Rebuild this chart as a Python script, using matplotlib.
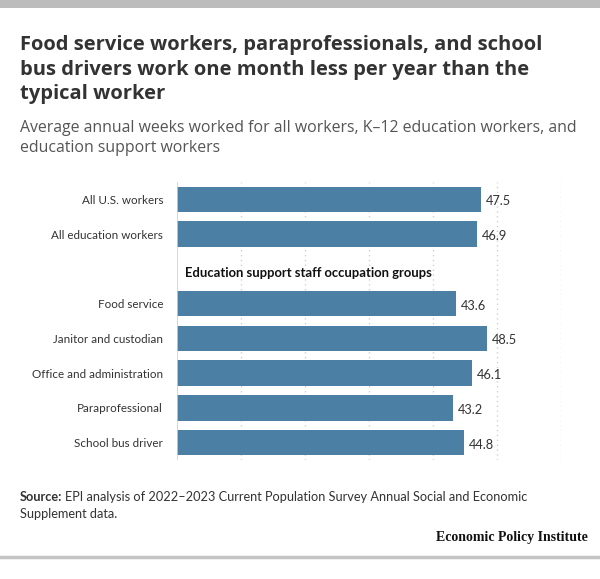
import matplotlib
matplotlib.use("Agg")
import matplotlib.pyplot as plt
from matplotlib.patches import Rectangle
from matplotlib.lines import Line2D

# -- data ---------------------------------------------------------------------
categories = [
    "All U.S. workers",
    "All education workers",
    "Food service",
    "Janitor and custodian",
    "Office and administration",
    "Paraprofessional",
    "School bus driver",
]
weeks = [47.5, 46.9, 43.6, 48.5, 46.1, 43.2, 44.8]
# row slots; slot 2 is left for the group heading
slots = [0, 1, 3, 4, 5, 6, 7]
heading = "Education support staff occupation groups"
heading_slot = 2
xticks = [0, 10, 20, 30, 40, 50, 60]

title_lines = [
    "Food service workers, paraprofessionals, and school",
    "bus drivers work one month less per year than the",
    "typical worker",
]
subtitle_lines = [
    "Average annual weeks worked for all workers, K\u201312 education workers, and",
    "education support workers",
]
source_lines = [
    "EPI analysis of 2022\u20132023 Current Population Survey Annual Social and Economic",
    "Supplement data.",
]

BAR = "#4b7fa3"
TXT = "#333333"
W, H = 600, 579

plt.rcParams["font.family"] = ["Lato", "DejaVu Sans"]

fig = plt.figure(figsize=(6, 5.79), dpi=100)
renderer = fig.canvas.get_renderer()


def px_y(y):
    return 1 - y / H


def fit_width(t, target_px):
    # scale the font so the text spans roughly target_px
    w = t.get_window_extent(renderer).width
    t.set_fontsize(t.get_fontsize() * target_px / w)


def lines(texts, baselines, x=20, **kw):
    out = []
    for s, yb in zip(texts, baselines):
        out.append(fig.text(x / W, px_y(yb), s, va="baseline", ha="left", **kw))
    return out


# top band and bottom rule
fig.add_artist(Rectangle((0, px_y(8)), 1, 8 / H, transform=fig.transFigure,
                         color="#bcbcbc", lw=0))
fig.add_artist(Line2D([0, 1], [px_y(557)] * 2, transform=fig.transFigure,
                      color="#c4c4c4", lw=2.5))

tl = lines(title_lines, [50, 74.5, 99], fontsize=14, fontweight="bold",
           color=TXT, family=["Open Sans", "DejaVu Sans"])
fit_width(tl[0], 525)
for t in tl[1:]:
    t.set_fontsize(tl[0].get_fontsize())

sl = lines(subtitle_lines, [132, 152.5], fontsize=11, color="#555555",
           family=["Open Sans", "DejaVu Sans"])
fit_width(sl[0], 558)
sl[1].set_fontsize(sl[0].get_fontsize())

# -- axes ---------------------------------------------------------------------
ax = fig.add_axes([177 / W, px_y(460), 384 / W, 278 / H])
ax.barh(slots, weeks, height=0.73, color=BAR, zorder=3)
ax.set_xlim(0, 60)
ax.set_ylim(7.5, -0.5)

for x in xticks[1:]:
    ax.axvline(x, color="#d0d0d0", lw=1.0, ls=(0, (1, 2.5)), zorder=1)
ax.axvline(0, color="#cfcfcf", lw=1.2, zorder=4)

for s, v in zip(slots, weeks):
    ax.text(v + 0.75, s + 0.06, f"{v:.1f}", va="center", ha="left",
            fontsize=9.2, color=TXT)

ax.set_yticks(slots)
ax.set_yticklabels(categories, fontsize=8.4, color=TXT)
ax.tick_params(axis="y", length=0, pad=10)
ax.set_xticks([])
for sp in ax.spines.values():
    sp.set_visible(False)

ax.text(1.3, heading_slot + 0.12, heading, va="center", ha="left",
        fontsize=9.35, fontweight="bold", color="#111111")

# -- footer -------------------------------------------------------------------
src_size = 9.15
lab = fig.text(20 / W, px_y(501), "Source:", fontsize=src_size, fontweight="bold",
               color=TXT, va="baseline", ha="left")
lab_w = lab.get_window_extent(renderer).width
lines([source_lines[0]], [501], x=20 + lab_w + 3, fontsize=src_size, color=TXT)
lines([source_lines[1]], [518], fontsize=src_size, color=TXT)

fig.text(588 / W, px_y(537), "Economic Policy Institute", fontsize=10,
         fontweight="bold", family=["Liberation Serif", "DejaVu Serif"],
         color="#111111", va="center", ha="right")

fig.savefig("out.png", dpi=100)
